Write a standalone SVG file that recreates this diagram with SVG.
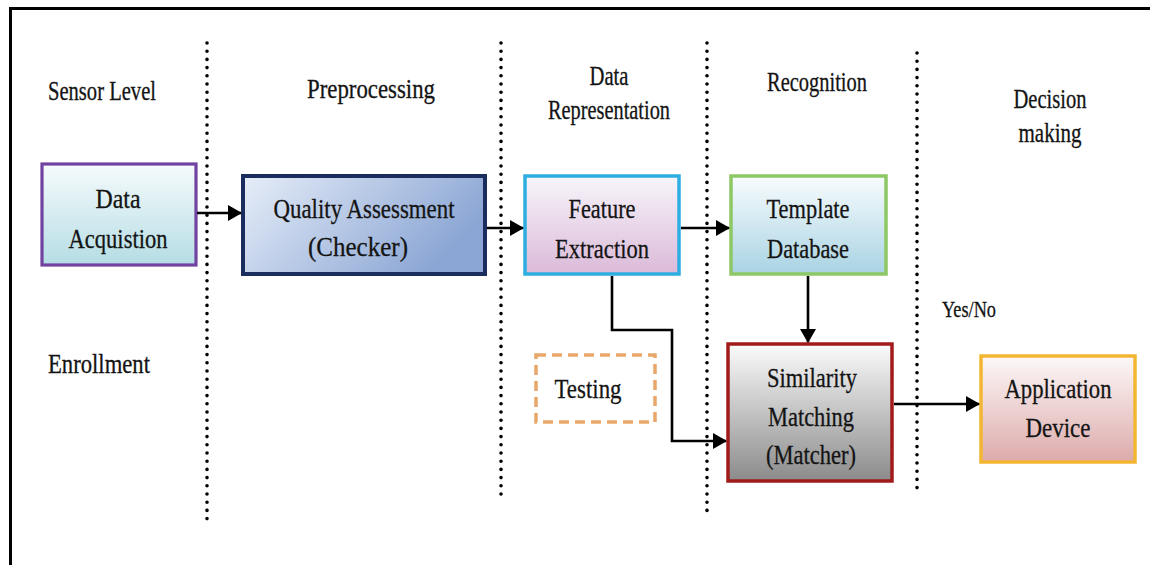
<svg xmlns="http://www.w3.org/2000/svg" width="1150" height="565" viewBox="0 0 1150 565">
  <style>
    text { font-family: "Liberation Serif", "Times New Roman", serif; fill: #141414; stroke: #141414; stroke-width: 0.3; text-anchor: middle; }
    .hdr { font-size: 26.5px; }
    .lbl { font-size: 28px; }
    .small { font-size: 23px; }
    .sep { stroke: #000; stroke-width: 3.6; stroke-linecap: round; stroke-dasharray: 0 8.2; fill: none; }
    .edge { stroke: #000; stroke-width: 2.6; fill: none; }
    .frame { stroke: #000; stroke-width: 3; fill: none; }
  </style>
  <defs>
    <marker id="arrow" markerUnits="userSpaceOnUse" markerWidth="14" markerHeight="16" refX="13" refY="8" orient="auto">
      <path d="M0,0 L14,8 L0,16 z" fill="#000"/>
    </marker>
    <linearGradient id="gAcq" x1="0" y1="0" x2="0" y2="1">
      <stop offset="0" stop-color="#f6fbfc"/>
      <stop offset="1" stop-color="#b5dde5"/>
    </linearGradient>
    <linearGradient id="gQual" x1="0" y1="0" x2="1" y2="0.4">
      <stop offset="0" stop-color="#e6edf8"/>
      <stop offset="1" stop-color="#8ba6d4"/>
    </linearGradient>
    <linearGradient id="gFeat" x1="0" y1="0" x2="0" y2="1">
      <stop offset="0" stop-color="#f7f5fa"/>
      <stop offset="1" stop-color="#dbbad9"/>
    </linearGradient>
    <linearGradient id="gTmpl" x1="0" y1="0" x2="0" y2="1">
      <stop offset="0" stop-color="#f8fcfd"/>
      <stop offset="1" stop-color="#a9d3e3"/>
    </linearGradient>
    <linearGradient id="gSim" x1="0" y1="0" x2="0" y2="1">
      <stop offset="0" stop-color="#fbfbfb"/>
      <stop offset="1" stop-color="#8b8b8b"/>
    </linearGradient>
    <linearGradient id="gApp" x1="0" y1="0" x2="0" y2="1">
      <stop offset="0" stop-color="#fdf8f8"/>
      <stop offset="1" stop-color="#ddaaaa"/>
    </linearGradient>
  </defs>

  <rect x="0" y="0" width="1150" height="565" fill="#fff"/>

  <!-- outer frame: top and left edges -->
  <path class="frame" d="M10.5,565 L10.5,8.5 L1150,8.5"/>

  <!-- stage separators -->
  <g id="separators">
    <line class="sep" x1="207" y1="43" x2="207" y2="519"/>
    <line class="sep" x1="501" y1="43" x2="501" y2="494"/>
    <line class="sep" x1="707" y1="43" x2="707" y2="518"/>
    <line class="sep" x1="917" y1="53" x2="917" y2="494"/>
  </g>

  <!-- stage headings and side labels -->
  <g id="stage-labels">
    <text class="hdr" x="102" y="100" textLength="108" lengthAdjust="spacingAndGlyphs">Sensor Level</text>
    <text class="hdr" x="371" y="98" textLength="128" lengthAdjust="spacingAndGlyphs">Preprocessing</text>
    <text class="hdr" x="609" y="85" textLength="39" lengthAdjust="spacingAndGlyphs">Data</text>
    <text class="hdr" x="609" y="119" textLength="122" lengthAdjust="spacingAndGlyphs">Representation</text>
    <text class="hdr" x="817" y="91" textLength="100" lengthAdjust="spacingAndGlyphs">Recognition</text>
    <text class="hdr" x="1050" y="108" textLength="73" lengthAdjust="spacingAndGlyphs">Decision</text>
    <text class="hdr" x="1050" y="142" textLength="63" lengthAdjust="spacingAndGlyphs">making</text>
    <text class="hdr" x="99" y="373" textLength="102" lengthAdjust="spacingAndGlyphs">Enrollment</text>
    <text class="small" x="969" y="317" textLength="54" lengthAdjust="spacingAndGlyphs">Yes/No</text>
  </g>

  <g id="data-acquisition">
    <rect x="42" y="164" width="154" height="101" fill="url(#gAcq)" stroke="#7142a0" stroke-width="3.2"/>
    <text class="lbl" x="118" y="208" textLength="45" lengthAdjust="spacingAndGlyphs">Data</text>
    <text class="lbl" x="118" y="248" textLength="99" lengthAdjust="spacingAndGlyphs">Acquistion</text>
  </g>

  <g id="quality-assessment">
    <rect x="243" y="176" width="242" height="98" fill="url(#gQual)" stroke="#1b2d5e" stroke-width="4"/>
    <text class="lbl" x="364" y="218" textLength="181" lengthAdjust="spacingAndGlyphs">Quality Assessment</text>
    <text class="lbl" x="358" y="256" textLength="100" lengthAdjust="spacingAndGlyphs">(Checker)</text>
  </g>

  <g id="feature-extraction">
    <rect x="525" y="176" width="154" height="98" fill="url(#gFeat)" stroke="#2eaee0" stroke-width="3.5"/>
    <text class="lbl" x="602" y="218" textLength="67" lengthAdjust="spacingAndGlyphs">Feature</text>
    <text class="lbl" x="602" y="258" textLength="94" lengthAdjust="spacingAndGlyphs">Extraction</text>
  </g>

  <g id="template-database">
    <rect x="731" y="176" width="155" height="98" fill="url(#gTmpl)" stroke="#8dc865" stroke-width="3.5"/>
    <text class="lbl" x="808" y="218" textLength="83" lengthAdjust="spacingAndGlyphs">Template</text>
    <text class="lbl" x="808" y="258" textLength="82" lengthAdjust="spacingAndGlyphs">Database</text>
  </g>

  <g id="testing">
    <rect x="536" y="355" width="119" height="67" fill="none" stroke="#e9a86a" stroke-width="3.5" stroke-dasharray="10 6"/>
    <text class="lbl" x="588" y="398" textLength="67" lengthAdjust="spacingAndGlyphs">Testing</text>
  </g>

  <g id="similarity-matching">
    <rect x="728" y="344" width="164" height="137" fill="url(#gSim)" stroke="#a11b1b" stroke-width="3.5"/>
    <text class="lbl" x="812" y="387" textLength="90" lengthAdjust="spacingAndGlyphs">Similarity</text>
    <text class="lbl" x="811" y="426" textLength="86" lengthAdjust="spacingAndGlyphs">Matching</text>
    <text class="lbl" x="811" y="464" textLength="90" lengthAdjust="spacingAndGlyphs">(Matcher)</text>
  </g>

  <g id="application-device">
    <rect x="981" y="356" width="154" height="106" fill="url(#gApp)" stroke="#f2b632" stroke-width="3.5"/>
    <text class="lbl" x="1058" y="398" textLength="107" lengthAdjust="spacingAndGlyphs">Application</text>
    <text class="lbl" x="1058" y="437" textLength="65" lengthAdjust="spacingAndGlyphs">Device</text>
  </g>

  <g id="connectors">
    <line class="edge" x1="197" y1="213" x2="241" y2="213" marker-end="url(#arrow)"/>
    <line class="edge" x1="487" y1="228" x2="523" y2="228" marker-end="url(#arrow)"/>
    <line class="edge" x1="681" y1="228" x2="729" y2="228" marker-end="url(#arrow)"/>
    <line class="edge" x1="808" y1="276" x2="808" y2="342" marker-end="url(#arrow)"/>
    <path class="edge" d="M612,276 L612,330 L672,330 L672,441 L726,441" marker-end="url(#arrow)"/>
    <line class="edge" x1="894" y1="404" x2="979" y2="404" marker-end="url(#arrow)"/>
  </g>
</svg>
